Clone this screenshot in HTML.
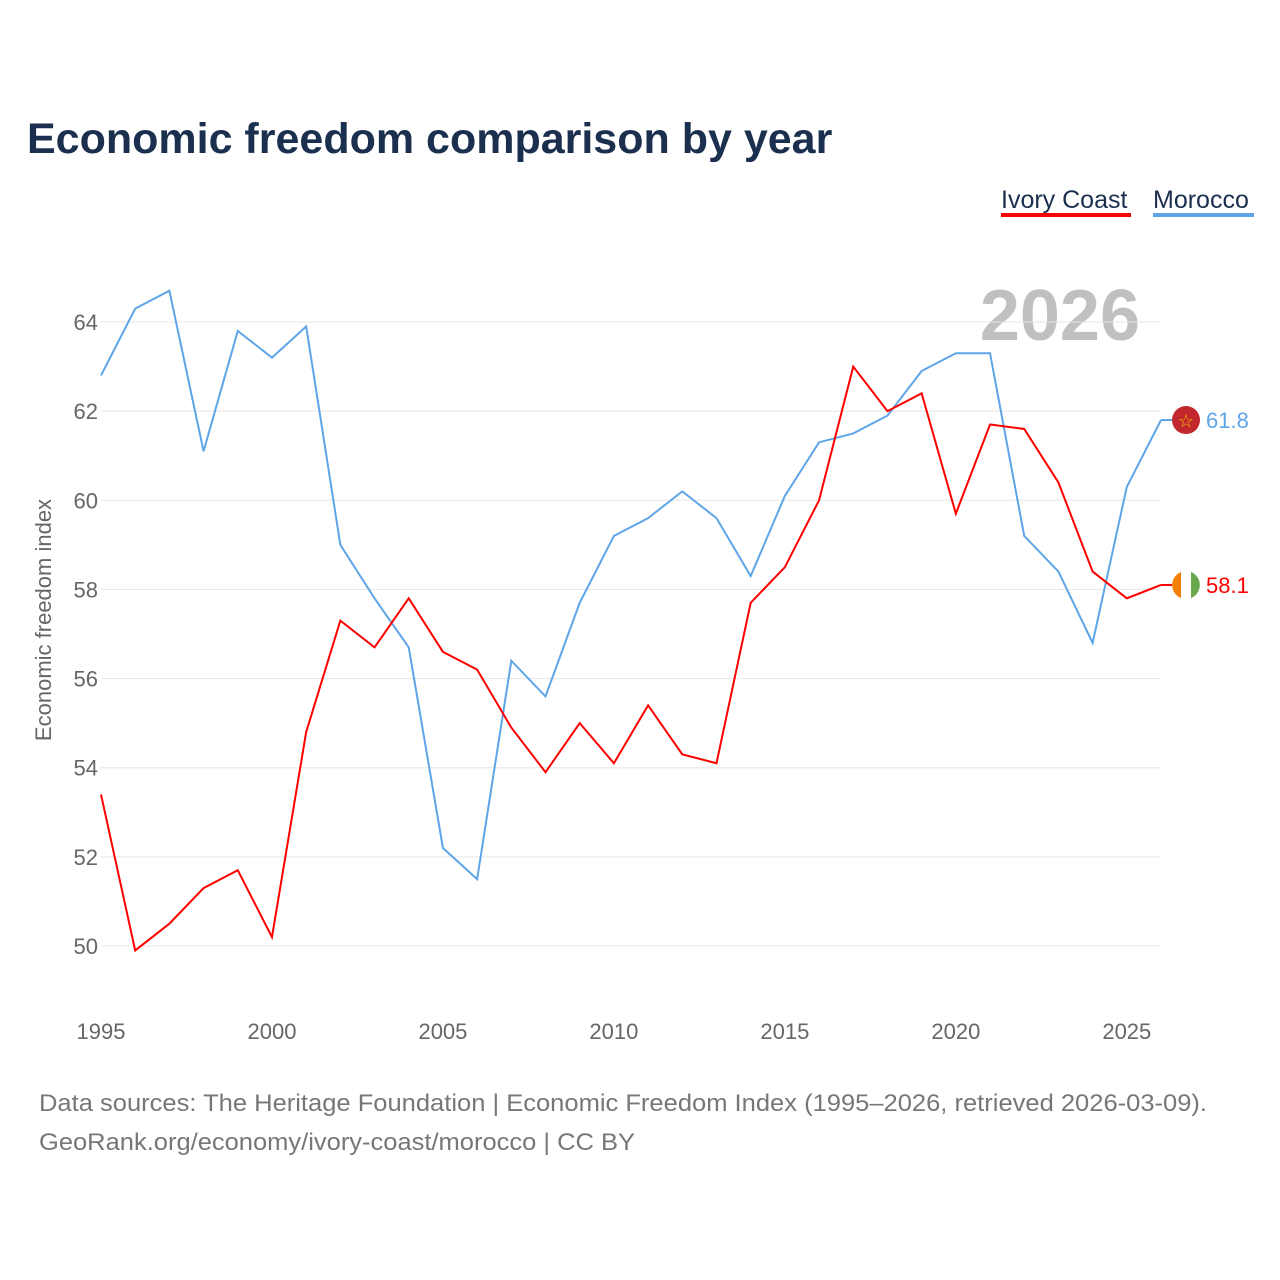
<!DOCTYPE html>
<html><head><meta charset="utf-8">
<style>
body{margin:0;background:#fff;font-family:"Liberation Sans",sans-serif;}
svg{display:block}
</style></head>
<body>
<svg id="chart" width="1280" height="1280">
<text x="27" y="153" font-size="43" font-weight="bold" fill="#1b2f4e">Economic freedom comparison by year</text>
<g>
<text x="1001" y="208" font-size="25" fill="#1b2f4e">Ivory Coast</text>
<rect x="1001" y="213" width="130" height="4" fill="#f00"></rect>
<text x="1153" y="208" font-size="25" fill="#1b2f4e">Morocco</text>
<rect x="1153" y="213" width="101" height="4" fill="#5ea5e8"></rect>
</g>
<text x="1140" y="340" font-size="72" font-weight="bold" fill="#c0c0c0" text-anchor="end">2026</text>
<g id="grid"></g><g id="yticks"></g><g id="xticks"></g><g id="lines"></g>
<text transform="translate(51,620) rotate(-90)" font-size="22" fill="#666" text-anchor="middle">Economic freedom index</text>
<text x="39" y="1111" font-size="24" fill="#777" textLength="1168" lengthAdjust="spacingAndGlyphs">Data sources: The Heritage Foundation | Economic Freedom Index (1995–2026, retrieved 2026-03-09).</text>
<text x="39" y="1150" font-size="24" fill="#777" textLength="596" lengthAdjust="spacingAndGlyphs">GeoRank.org/economy/ivory-coast/morocco | CC BY</text>
</svg>
<script>
const years=[1995,1996,1997,1998,1999,2000,2001,2002,2003,2004,2005,2006,2007,2008,2009,2010,2011,2012,2013,2014,2015,2016,2017,2018,2019,2020,2021,2022,2023,2024,2025,2026];
const morocco=[62.8,64.3,64.7,61.1,63.8,63.2,63.9,59.0,57.8,56.7,52.2,51.5,56.4,55.6,57.7,59.2,59.6,60.2,59.6,58.3,60.1,61.3,61.5,61.9,62.9,63.3,63.3,59.2,58.4,56.8,60.3,61.8];
const ivoryCoast=[53.4,49.9,50.5,51.3,51.7,50.2,54.8,57.3,56.7,57.8,56.6,56.2,54.9,53.9,55.0,54.1,55.4,54.3,54.1,57.7,58.5,60.0,63.0,62.0,62.4,59.7,61.7,61.6,60.4,58.4,57.8,58.1];
const yTicks=[50,52,54,56,58,60,62,64];
const xTicks=[1995,2000,2005,2010,2015,2020,2025];
const NS="http://www.w3.org/2000/svg";
const xs=y=>101+(y-1995)*(1161-101)/31;
const ys=v=>946-(v-50)*(624/14);
function mk(tag,attrs,parent){const e=document.createElementNS(NS,tag);for(const k in attrs)e.setAttribute(k,attrs[k]);document.getElementById(parent).appendChild(e);return e;}
yTicks.forEach(t=>{
 const l=mk('line',{x1:101,x2:1161,y1:ys(t),y2:ys(t),stroke:'#e6e6e6','stroke-width':1},'grid');
 
 
 const tx=mk('text',{x:98,y:ys(t)+8,'font-size':22,fill:'#666','text-anchor':'end'},'yticks');
 tx.textContent=t;
 
 
});
xTicks.forEach(t=>{
 const tx=mk('text',{x:xs(t),y:1039,'font-size':22,fill:'#666','text-anchor':'middle'},'xticks');
 tx.textContent=t;
 
 
});
function series(vals,color,name){
 const p=mk('polyline',{points:vals.map((v,i)=>xs(years[i])+','+ys(v)).join(' '),fill:'none',stroke:color,'stroke-width':2},'lines');
 
 
 const last=vals[vals.length-1],lx=xs(years[years.length-1]),ly=ys(last);
 mk('line',{x1:lx,x2:lx+12,y1:ly,y2:ly,stroke:color,'stroke-width':2},'lines');
 const c=mk('circle',{cx:1186,cy:ly,r:14,fill:name==='morocco'?'#c1272d':'#fff'},'lines');
 
 
 if(name==='ivory-coast'){
  mk('path',{d:`M1181,${ly-13} A14,14 0 0 0 1181,${ly+13} Z`,fill:'#f77f00'},'lines');
  mk('path',{d:`M1191,${ly-13} A14,14 0 0 1 1191,${ly+13} Z`,fill:'#6aa84f'},'lines');
 } else {
  const s=mk('text',{x:1186,y:ly+7,'font-size':18,fill:'#f2c200','text-anchor':'middle'},'lines');s.textContent='☆';
 }
 const t=mk('text',{x:1206,y:ly+8,'font-size':22,fill:color},'lines');
 t.textContent=last.toFixed(1);
 
 
}
series(morocco,'#5ea5e8','morocco');
series(ivoryCoast,'#f00','ivory-coast');
</script>
</body></html>
